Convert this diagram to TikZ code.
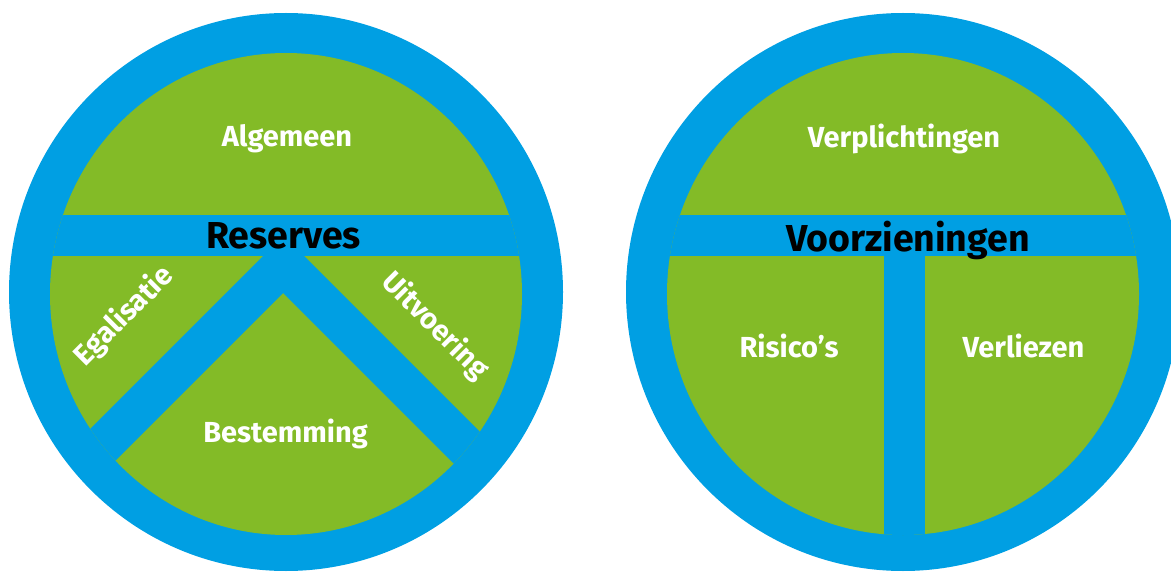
\documentclass[tikz,border=0pt]{standalone}
\usepackage{fontspec}
\setmainfont{Fira Sans}
\definecolor{ringblue}{HTML}{009FE3}
\definecolor{leafgreen}{HTML}{83BB27}
\tikzset{
  lbl/.style={text=white, inner sep=0pt, font=\bfseries\fontsize{29}{29}\selectfont},
  ttl/.style={text=black, inner sep=0pt, font=\bfseries\fontsize{37.5}{37.5}\selectfont},
}
\begin{document}
\begin{tikzpicture}[x=1pt,y=-1pt]
\useasboundingbox (0,0) rectangle (1171,572);
\begin{scope}
\clip (0,0) rectangle (1171,572);
% left disc
\fill[ringblue] (286,292) ellipse [x radius=277, y radius=279];
\fill[leafgreen] (286,294) ellipse [x radius=236, y radius=241];
\begin{scope}
\clip (286,294) ellipse [x radius=236, y radius=241];
\fill[ringblue] (0,215) rectangle (600,256);
\fill[ringblue] (283.5,235.5) -- (648,600) -- (590,600) -- (283,293) -- (-24,600) -- (-81,600) -- cycle;
\end{scope}
% right disc
\fill[ringblue] (903,292) ellipse [x radius=277, y radius=279];
\fill[leafgreen] (903,294) ellipse [x radius=236, y radius=241];
\begin{scope}
\clip (903,294) ellipse [x radius=236, y radius=241];
\fill[ringblue] (600,215) rectangle (1171,256);
\fill[ringblue] (884,256) rectangle (925,600);
\end{scope}
\end{scope}
% labels
\node[lbl, anchor=base] (alg) at (287,147) {Algemeen};
\node[ttl, anchor=base] (res) at (283.5,248.5) {Reserves};
\node[lbl, anchor=center, rotate=45] (ega) at (124,316) {Egalisatie};
\node[lbl, anchor=center, rotate=-45] (uit) at (435,326) {Uitvoering};
\node[lbl, anchor=base] (bes) at (285.5,442) {Bestemming};
\node[lbl, anchor=base] (ver) at (904,148) {Verplichtingen};
\node[ttl, anchor=base] (voo) at (908,252) {Voorzieningen};
\node[lbl, anchor=base] (ris) at (789,357) {Risico’s};
\node[lbl, anchor=base] (vlz) at (1023.5,357) {Verliezen};
\end{tikzpicture}
\end{document}
